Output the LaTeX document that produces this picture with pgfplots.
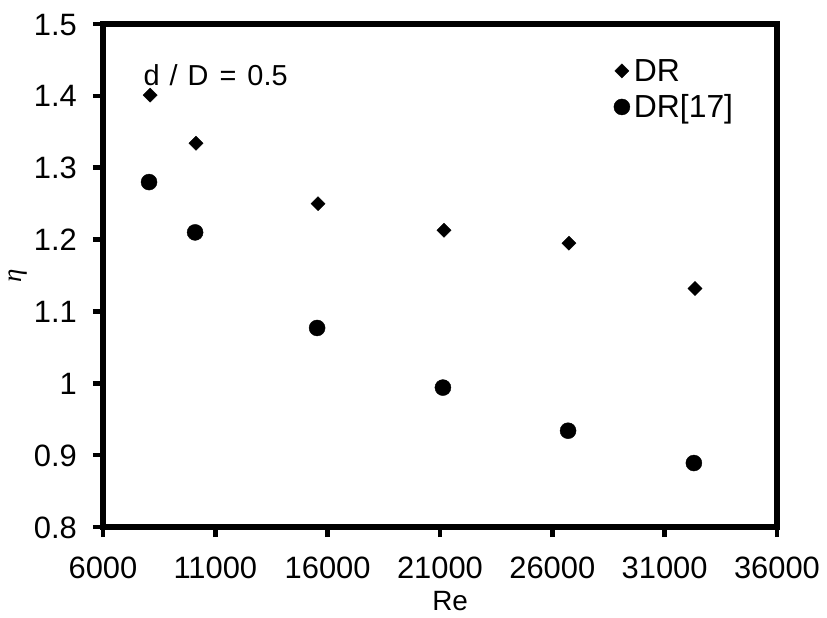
\documentclass[border=0pt]{standalone}
\usepackage{fontspec}
\setmainfont{Liberation Sans}
\newfontfamily\grk{Liberation Serif}
\usepackage{pgfplots}
\pgfplotsset{compat=1.18}

% values
\pgfplotstableread{
Re eta
8100 1.401
10140 1.334
15570 1.250
21180 1.213
26740 1.195
32350 1.132
}\dr
\pgfplotstableread{
Re eta
8050 1.280
10100 1.210
15530 1.077
21130 0.994
26700 0.934
32300 0.889
}\drref

\begin{document}
\begin{tikzpicture}
\path[use as bounding box] (-103bp,-91bp) rectangle (724bp,527bp);
\begin{axis}[
    at={(0bp,0bp)}, anchor=south west,
    width=674bp, height=503bp, scale only axis,
    xmin=6000, xmax=36000,
    ymin=0.8, ymax=1.5,
    xtick={6000,11000,16000,21000,26000,31000,36000},
    ytick={0.8,0.9,1,1.1,1.2,1.3,1.4,1.5},
    scaled ticks=false,
    /pgf/number format/1000 sep={},
    /pgf/number format/assume math mode=true,
    axis line style={line width=5.5bp, line cap=rect},
    every tick/.style={line width=4.5bp, black},
    tick align=outside,
    major tick length=10bp,
    xtick pos=bottom, ytick pos=left,
    tick label style={font=\fontsize{31}{36}\selectfont, inner sep=0pt},
    yticklabel style={anchor=base east, xshift=-16bp, yshift=-11bp},
    xticklabel style={anchor=base, yshift=-41bp},
    xlabel={Re},
    xlabel style={font=\fontsize{28}{32}\selectfont, inner sep=0pt, anchor=base, at={(rel axis cs:0.515,0)}, yshift=-83bp},
    ylabel={{\grk\itshape η}},
    ylabel style={font=\fontsize{27}{32}\selectfont, inner sep=0pt, anchor=center, at={(rel axis cs:0,0.5)}, yshift=85bp},
    legend style={draw=none, fill=none, inner sep=0pt, outer sep=0pt,
        at={(rel axis cs:0.758,0.93)}, anchor=north west,
        font=\fontsize{32}{36}\selectfont, row sep=12bp,
        nodes={inner sep=0pt},
        /tikz/every odd column/.append style={column sep=4bp}},
    legend cell align=left,
    legend image code/.code={\draw[#1, only marks] plot coordinates {(0bp,0bp)};},
]
\addplot[only marks, mark=square*, mark size=5bp, mark options={rotate=45, fill=black, draw=black}] table[x=Re, y=eta] {\dr};
\addlegendentry{DR}
\addplot[only marks, mark=*, mark size=8bp, mark options={fill=black, draw=black}] table[x=Re, y=eta] {\drref};
\addlegendentry{DR[17]}
\node[anchor=base west, inner sep=0pt, font=\fontsize{29}{32}\selectfont] at (axis cs:7800,1.415) {d\hspace{10bp}/\hspace{10bp}D\hspace{11bp}=\hspace{11bp}0.5};
\end{axis}
\end{tikzpicture}
\end{document}
